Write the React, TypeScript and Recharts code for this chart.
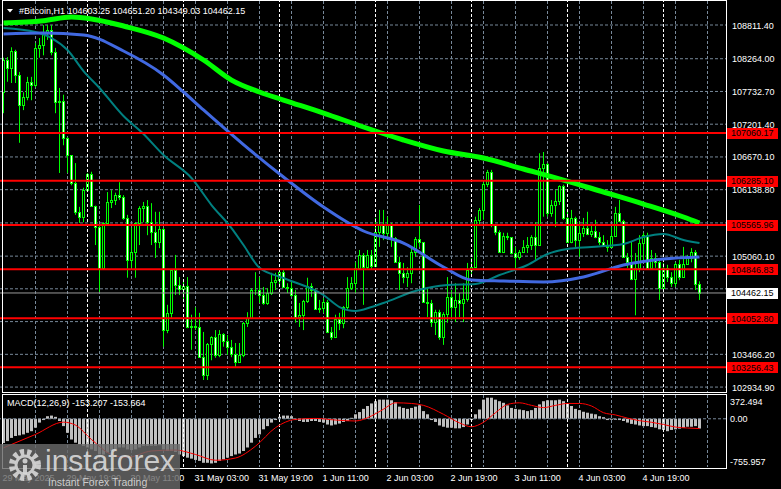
import React from "react";
import {
  ComposedChart,
  Bar,
  Line,
  XAxis,
  YAxis,
  CartesianGrid,
  ReferenceLine,
} from "recharts";

// #Bitcoin H1, 29 May 2025 03:00 .. 5 Jun 09:00 (175 bars), open = previous close
const firstOpen = 107720;
const closes = [
  108240, 108110, 108390, 108000, 107510, 107640, 107890, 107840, 108440, 108490,
  108700, 108730, 108370, 107560, 107580, 106980, 106700, 106250, 105780, 105700,
  106130, 106390, 105870, 105530, 104870, 105600, 105940, 105970, 106050, 106020,
  105680, 105000, 105130, 105600, 105840, 105870, 105610, 105450, 105290, 105500,
  103860, 104140, 104840, 104590, 104530, 104580, 103910, 103930, 103910, 103420,
  103130, 103630, 103750, 103460, 103800, 103680, 103590, 103470, 103340, 103460,
  103980, 104060, 104510, 104510, 104430, 104300, 104460, 104640, 104670, 104800,
  104560, 104540, 104430, 104070, 104100, 104330, 104580, 104510, 104200, 104220,
  104320, 103830, 103750, 104040, 103980, 104230, 104540, 104620, 104870, 105080,
  104880, 105080, 104900, 105450, 105570, 105440, 105570, 105350, 104960, 104790,
  104720, 104790, 105130, 105340, 105290, 104320, 104300, 103990, 104150, 103750,
  104120, 104400, 104230, 104350, 104300, 104360, 104840, 104880, 105650, 105810,
  106230, 106430, 105570, 105450, 105130, 105390, 105370, 105110, 105050, 105130,
  105210, 105240, 105370, 105240, 106490, 106560, 105760, 105890, 105950, 106200,
  105680, 105290, 105680, 105320, 105440, 105520, 105420, 105470, 105370, 105290,
  105220, 105210, 105390, 105760, 105630, 105050, 104970, 104690, 104870, 105270,
  105400, 104870, 105030, 104970, 104540, 104870, 104720, 104620, 104930, 104720,
  104930, 105030, 105130, 104603.25, 104462.15,
];
const highs = [
  108280, 108290, 108450, 108410, 108050, 107720, 107970, 107970, 108520, 108600,
  108810, 108810, 108810, 108440, 107790, 107680, 106990, 106700, 106570, 105860,
  106170, 106410, 106430, 105880, 105570, 105610, 106100, 106130, 106090, 106260,
  106050, 105730, 105520, 105610, 105870, 105940, 105970, 105920, 105780, 105780,
  105520, 104270, 104840, 105080, 104720, 104670, 104720, 104110, 104230, 104140,
  103830, 103650, 103760, 103860, 103860, 103810, 103780, 103700, 103650, 103650,
  103990, 104150, 104540, 104800, 104720, 104560, 104540, 104790, 104790, 104840,
  104850, 104620, 104670, 104510, 104300, 104350, 104710, 104620, 104530, 104350,
  104380, 104350, 103910, 104110, 104140, 104250, 104720, 104720, 104960, 105160,
  105110, 105160, 105160, 105680, 105810, 105810, 105700, 105600, 105370, 105050,
  104950, 104880, 105210, 105370, 105890, 105290, 104560, 104350, 104190, 104190,
  104150, 104720, 104510, 104620, 104460, 104620, 104950, 105030, 105700, 105840,
  106260, 106460, 106460, 105570, 105480, 105440, 105440, 105370, 105210, 105160,
  105320, 105370, 105400, 105610, 106730, 106750, 106570, 105970, 106130, 106210,
  106220, 105810, 105810, 105700, 105610, 105680, 105780, 105570, 105650, 105450,
  105400, 105320, 105530, 105860, 105970, 105650, 105110, 105290, 105110, 105400,
  105440, 105440, 105160, 105110, 104990, 104950, 104920, 104800, 104960, 105000,
  105210, 105080, 105190, 105160, 104651.2,
];
const lows = [
  107380, 107890, 107870, 107870, 106900, 107430, 107590, 107590, 107800, 108280,
  108320, 108570, 108320, 107380, 106410, 106860, 106410, 106210, 105730, 105600,
  105610, 106100, 105860, 105240, 104480, 104870, 105570, 105840, 105890, 105970,
  105650, 104710, 104870, 104710, 105240, 105610, 105400, 105240, 105030, 105190,
  103590, 103810, 104060, 104430, 104430, 104350, 103890, 103540, 103860, 103410,
  103050, 103050, 103370, 103410, 103420, 103590, 103460, 103420, 103260, 103340,
  103420, 103910, 104060, 104430, 104300, 104270, 104270, 104430, 104510, 104560,
  104540, 104460, 104400, 103980, 103910, 103860, 104300, 104400, 104190, 104140,
  104140, 103810, 103700, 103730, 103860, 103890, 104190, 104510, 104460, 104840,
  104270, 104840, 104840, 104880, 105210, 105320, 105320, 105210, 104950, 104510,
  104620, 104560, 104620, 105050, 105210, 104300, 104070, 103910, 103780, 103700,
  103620, 103980, 104020, 103990, 104070, 103990, 104320, 104750, 104870, 105570,
  105650, 106180, 105530, 105400, 105110, 105110, 105320, 105090, 104870, 105000,
  105110, 105110, 105160, 105000, 105230, 105700, 105700, 105700, 105530, 105890,
  105650, 105270, 105270, 105210, 105050, 105370, 105400, 105370, 105350, 105240,
  105210, 105130, 105190, 105370, 105610, 105030, 104870, 104670, 104100, 104800,
  104950, 104870, 104840, 104870, 104350, 104480, 104640, 104560, 104560, 104670,
  104710, 104920, 104960, 104510, 104349.03,
];

// moving averages, read at key bars
const maSlowIdx = [0, 10, 17, 22, 30, 40, 50, 57, 64, 70, 80, 90, 100, 110, 120, 130, 140, 150, 160, 170, 174];
const maSlowVal = [108843, 108880, 108941, 108910, 108795, 108600, 108243, 107918, 107724, 107594, 107383, 107156, 106945, 106766, 106652, 106474, 106295, 106101, 105906, 105695, 105597];
const maMidIdx = [0, 10, 20, 30, 40, 45, 50, 60, 70, 80, 90, 100, 110, 117, 125, 135, 145, 155, 165, 174];
const maMidVal = [108665, 108681, 108650, 108389, 108000, 107724, 107432, 106870, 106344, 105857, 105468, 105273, 104884, 104673, 104656, 104640, 104722, 104916, 105014, 105046];
const maFastIdx = [0, 8, 12, 16, 20, 24, 30, 35, 40, 47, 52, 57, 60, 64, 70, 80, 84, 88, 92, 95, 103, 111, 118, 124, 131, 136, 141, 147, 155, 160, 165, 170, 174];
const maFastVal = [108762, 108697, 108600, 108405, 108064, 107789, 107334, 107042, 106701, 106328, 105890, 105516, 105241, 104870, 104705, 104429, 104234, 104170, 104234, 104299, 104494, 104591, 104608, 104754, 104916, 105095, 105176, 105208, 105257, 105370, 105419, 105322, 105273];

// MACD(12,26,9)
const macdHist = [
  -380, -350, -300, -270, -260, -245, -220, -195, -140, -60,
  -20, 40, 50, 30, -35, -115, -220, -325, -375, -400,
  -425, -450, -480, -505, -560, -560, -530, -505, -480, -450,
  -450, -480, -490, -480, -450, -425, -425, -425, -425, -415,
  -480, -505, -505, -520, -560, -585, -610, -625, -645, -660,
  -690, -690, -700, -690, -660, -635, -610, -585, -560, -545,
  -505, -450, -375, -300, -245, -165, -115, -60, -20, 30,
  50, 50, 40, -20, -35, -50, -50, -35, -35, -50,
  -60, -90, -105, -90, -75, -50, -35, 15, 70, 105,
  155, 200, 240, 275, 300, 300, 300, 290, 260, 190,
  170, 155, 170, 190, 210, 120, 70, -20, -50, -105,
  -125, -140, -140, -150, -150, -130, -90, -20, 70, 145,
  300, 330, 330, 300, 275, 250, 210, 170, 155, 145,
  135, 120, 135, 170, 225, 275, 290, 290, 290, 300,
  275, 240, 200, 155, 135, 110, 95, 80, 70, 40,
  25, -20, -5, -10, -20, -35, -60, -80, -90, -105,
  -115, -115, -130, -140, -165, -175, -195, -175, -165, -155,
  -140, -125, -125, -115, -153.207,
];
const signalIdx = [0, 8, 15, 18, 22, 27, 31, 37, 43, 48, 53, 58, 63, 68, 73, 78, 83, 88, 92, 95, 98, 102, 105, 110, 114, 117, 120, 123, 126, 129, 132, 135, 138, 141, 144, 147, 150, 153, 156, 159, 162, 165, 168, 171, 174];
const signalVal = [-455, -245, -53, -100, -325, -560, -605, -505, -490, -560, -650, -615, -430, -140, -10, 5, -20, -35, 45, 150, 250, 240, 210, 70, -65, -125, -55, 95, 225, 250, 210, 175, 210, 240, 240, 200, 95, 60, 10, -30, -55, -90, -130, -145, -153.664];

const levels = [107060.17, 106285.1, 105565.96, 104846.83, 104052.8, 103256.43];
const lastPrice = 104462.15;
const priceLabels = [108811.4, 108264.0, 107732.7, 107201.4, 106670.1, 106138.8, 105060.1, 103466.2, 102934.9];
// grid rows whose labels sit under the level boxes
const hiddenRows = [105599.4, 104529.8, 103997.5];
const macdTicks = [372.494, 0, -755.957];

const timeIdx = [0, 16, 32, 48, 64, 80, 96, 112, 128, 144, 160];
const timeLabels = [
  "29 May 2025", "29 May 19:00", "30 May 11:00", "31 May 03:00", "31 May 19:00",
  "1 Jun 11:00", "2 Jun 03:00", "2 Jun 19:00", "3 Jun 11:00", "4 Jun 03:00", "4 Jun 19:00",
];
const gridIdx = [8, 16, 24, 32, 40, 48, 56, 64, 72, 80, 88, 96, 104, 112, 120, 128, 136, 144, 152, 160, 168, 176];
const dayIdx = [21, 45, 69, 93, 117, 141, 165];

const data: any[] = closes.map((c, i) => ({
  i,
  open: i === 0 ? firstOpen : closes[i - 1],
  close: c,
  high: highs[i],
  low: lows[i],
  range: [lows[i], highs[i]],
  macd: macdHist[i],
}));
maSlowIdx.forEach((k, j) => (data[k].maSlow = maSlowVal[j]));
maMidIdx.forEach((k, j) => (data[k].maMid = maMidVal[j]));
maFastIdx.forEach((k, j) => (data[k].maFast = maFastVal[j]));
signalIdx.forEach((k, j) => (data[k].signal = signalVal[j]));

const FONT = "'Liberation Sans', Arial, sans-serif";
const X_DOMAIN: [number, number] = [-0.875, 180.625];
const GRID = "#778899";
const LIME = "#00ff00";

const Candle = (props: any) => {
  const { x, y, width, height, payload } = props;
  if (!payload) return null;
  const { open, close, high, low } = payload;
  const cx = Math.floor(x + width / 2) + 0.5;
  const k = height / (high - low);
  const top = Math.round(y + (high - Math.max(open, close)) * k) + 0.5;
  const bot = Math.round(y + (high - Math.min(open, close)) * k) + 0.5;
  const bull = close >= open;
  return (
    <g>
      <line x1={cx} x2={cx} y1={y} y2={y + height} stroke={LIME} strokeWidth={1} />
      {bot - top < 1 ? (
        <line x1={cx - 1} x2={cx + 1} y1={top} y2={top} stroke={LIME} strokeWidth={1} />
      ) : (
        <rect x={cx - 1} y={top} width={2} height={bot - top} fill={bull ? "#000" : "#fff"} stroke={LIME} strokeWidth={1} />
      )}
    </g>
  );
};

const HistBar = (props: any) => {
  const { x, y, width, height } = props;
  const cx = Math.floor(x + width / 2);
  const y0 = Math.min(y, y + height);
  const h = Math.abs(height);
  return <rect x={cx - 1} y={y0} width={3} height={Math.max(h, 1)} fill="#c0c0c0" />;
};

const PriceTick = (props: any) => {
  const { x, y, payload } = props;
  const v = payload.value;
  const isLevel = levels.includes(v);
  const isLast = v === lastPrice;
  if (isLevel || isLast) {
    return (
      <g>
        <rect x={x + 1} y={Math.round(y) - 5} width={51} height={11} fill={isLast ? "#ffffff" : "#ff0000"} />
        <text x={x + 5} y={y} dy={3.5} fill="#000" fontSize={9} fontFamily={FONT}>
          {v.toFixed(2)}
        </text>
      </g>
    );
  }
  return (
    <text x={x + 6} y={y} dy={3.5} fill="#fff" fontSize={9} fontFamily={FONT}>
      {v.toFixed(2)}
    </text>
  );
};

const MacdTick = (props: any) => {
  const { x, y, payload } = props;
  const v = payload.value;
  const dy = v > 0 ? 9.5 : v < 0 ? -2.5 : 3.5;
  const label = v === 0 ? "0.00" : String(v);
  return (
    <text x={x + 4} y={y} dy={dy} fill="#fff" fontSize={9} fontFamily={FONT}>
      {label}
    </text>
  );
};

const TimeTick = (props: any) => {
  const { x, y, payload } = props;
  const n = timeIdx.indexOf(payload.value);
  return (
    <text x={x - 1} y={y + 14} fill="#fff" fontSize={9} fontFamily={FONT} textAnchor="start">
      {timeLabels[n]}
    </text>
  );
};

export default function App() {
  return (
    <div style={{ position: "absolute", left: 0, top: 0, width: 781, height: 489, background: "#000", overflow: "hidden" }}>
      <div style={{ position: "absolute", left: 0, top: 0 }}>
        <ComposedChart width={781} height={393} data={data} margin={{ top: 1, right: 0, bottom: 1, left: 0 }}>
          <CartesianGrid
            stroke={GRID}
            strokeDasharray="3 2"
            verticalValues={gridIdx}
            horizontalValues={[...priceLabels, ...hiddenRows]}
          />
          <XAxis dataKey="i" type="number" domain={X_DOMAIN} allowDataOverflow hide />
          <YAxis
            orientation="right"
            width={55}
            type="number"
            domain={[102855, 109201]}
            allowDataOverflow
            ticks={[...priceLabels, ...levels, lastPrice]}
            interval={0}
            tick={(p: any) => <PriceTick {...p} />}
            tickLine={false}
            axisLine={false}
            tickSize={0}
            tickMargin={0}
          />
          {dayIdx.map((d) => (
            <ReferenceLine key={"d" + d} x={d} stroke="#ffffff" strokeDasharray="3 2" />
          ))}
          <Bar dataKey="range" barSize={3} shape={(p: any) => <Candle {...p} />} isAnimationActive={false} />
          <Line dataKey="maFast" type="monotone" stroke="#008080" strokeWidth={2} dot={false} connectNulls isAnimationActive={false} />
          <Line dataKey="maMid" type="monotone" stroke="#4169e1" strokeWidth={3} dot={false} connectNulls isAnimationActive={false} />
          <Line dataKey="maSlow" type="monotone" stroke={LIME} strokeWidth={5} dot={false} connectNulls isAnimationActive={false} />
          <ReferenceLine y={lastPrice} stroke="#9a9a9a" strokeWidth={1} />
          {levels.map((v) => (
            <ReferenceLine key={v} y={v} stroke="#ff0000" strokeWidth={2} />
          ))}
        </ComposedChart>
      </div>
      <div style={{ position: "absolute", left: 0, top: 393 }}>
        <ComposedChart width={781} height={96} data={data} margin={{ top: 2, right: 0, bottom: 0, left: 0 }}>
          <CartesianGrid stroke={GRID} strokeDasharray="3 2" verticalValues={gridIdx} horizontal={false} />
          <XAxis
            dataKey="i"
            type="number"
            domain={X_DOMAIN}
            allowDataOverflow
            ticks={timeIdx}
            interval={0}
            height={22}
            tick={(p: any) => <TimeTick {...p} />}
            tickLine={false}
            axisLine={false}
            tickSize={0}
            tickMargin={0}
          />
          <YAxis
            orientation="right"
            width={55}
            type="number"
            domain={[-755.957, 372.494]}
            allowDataOverflow
            ticks={macdTicks}
            interval={0}
            tick={(p: any) => <MacdTick {...p} />}
            tickLine={false}
            axisLine={false}
            tickSize={0}
            tickMargin={0}
          />
          {dayIdx.map((d) => (
            <ReferenceLine key={"m" + d} x={d} stroke="#ffffff" strokeDasharray="3 2" />
          ))}
          <ReferenceLine y={0} stroke={GRID} strokeDasharray="3 2" />
          <Bar dataKey="macd" barSize={3} shape={(p: any) => <HistBar {...p} />} isAnimationActive={false} />
          <Line dataKey="signal" type="monotone" stroke="#ff0000" strokeWidth={1} dot={false} connectNulls isAnimationActive={false} />
        </ComposedChart>
      </div>
      <svg width={781} height={489} style={{ position: "absolute", left: 0, top: 0, pointerEvents: "none" }}>
        <rect x={2.5} y={0.5} width={724} height={392} fill="none" stroke="#fff" />
        <rect x={2.5} y={394.5} width={724} height={74} fill="none" stroke="#fff" />
        <polygon points="7,9 13,9 10,12.5" fill="#fff" />
        <text x={19} y={14} fill="#fff" fontSize={9} fontFamily={FONT}>
          #Bitcoin,H1  104603.25 104651.20 104349.03 104462.15
        </text>
        <text x={7} y={406} fill="#fff" fontSize={9} fontFamily={FONT}>
          MACD(12,26,9) -153.207 -153.664
        </text>
        <g>
          <rect x={0} y={444} width={180} height={45} fill="rgba(105,105,105,0.82)" />
          <circle cx={25} cy={465} r={13} fill="none" stroke="rgba(215,215,215,0.9)" strokeWidth={6} strokeDasharray="4 3" />
          <circle cx={25} cy={465} r={9} fill="none" stroke="rgba(215,215,215,0.9)" strokeWidth={3} />
          <circle cx={25} cy={461} r={2.5} fill="rgba(215,215,215,0.9)" />
          <rect x={23} y={465} width={4} height={9} fill="rgba(215,215,215,0.9)" />
          <text x={45} y={471} fill="rgba(220,220,220,0.9)" fontSize={30} fontFamily={FONT}>
            instaforex
          </text>
          <text x={48} y={486} fill="rgba(220,220,220,0.9)" fontSize={10.5} fontFamily={FONT}>
            Instant Forex Trading
          </text>
        </g>
      </svg>
    </div>
  );
}
